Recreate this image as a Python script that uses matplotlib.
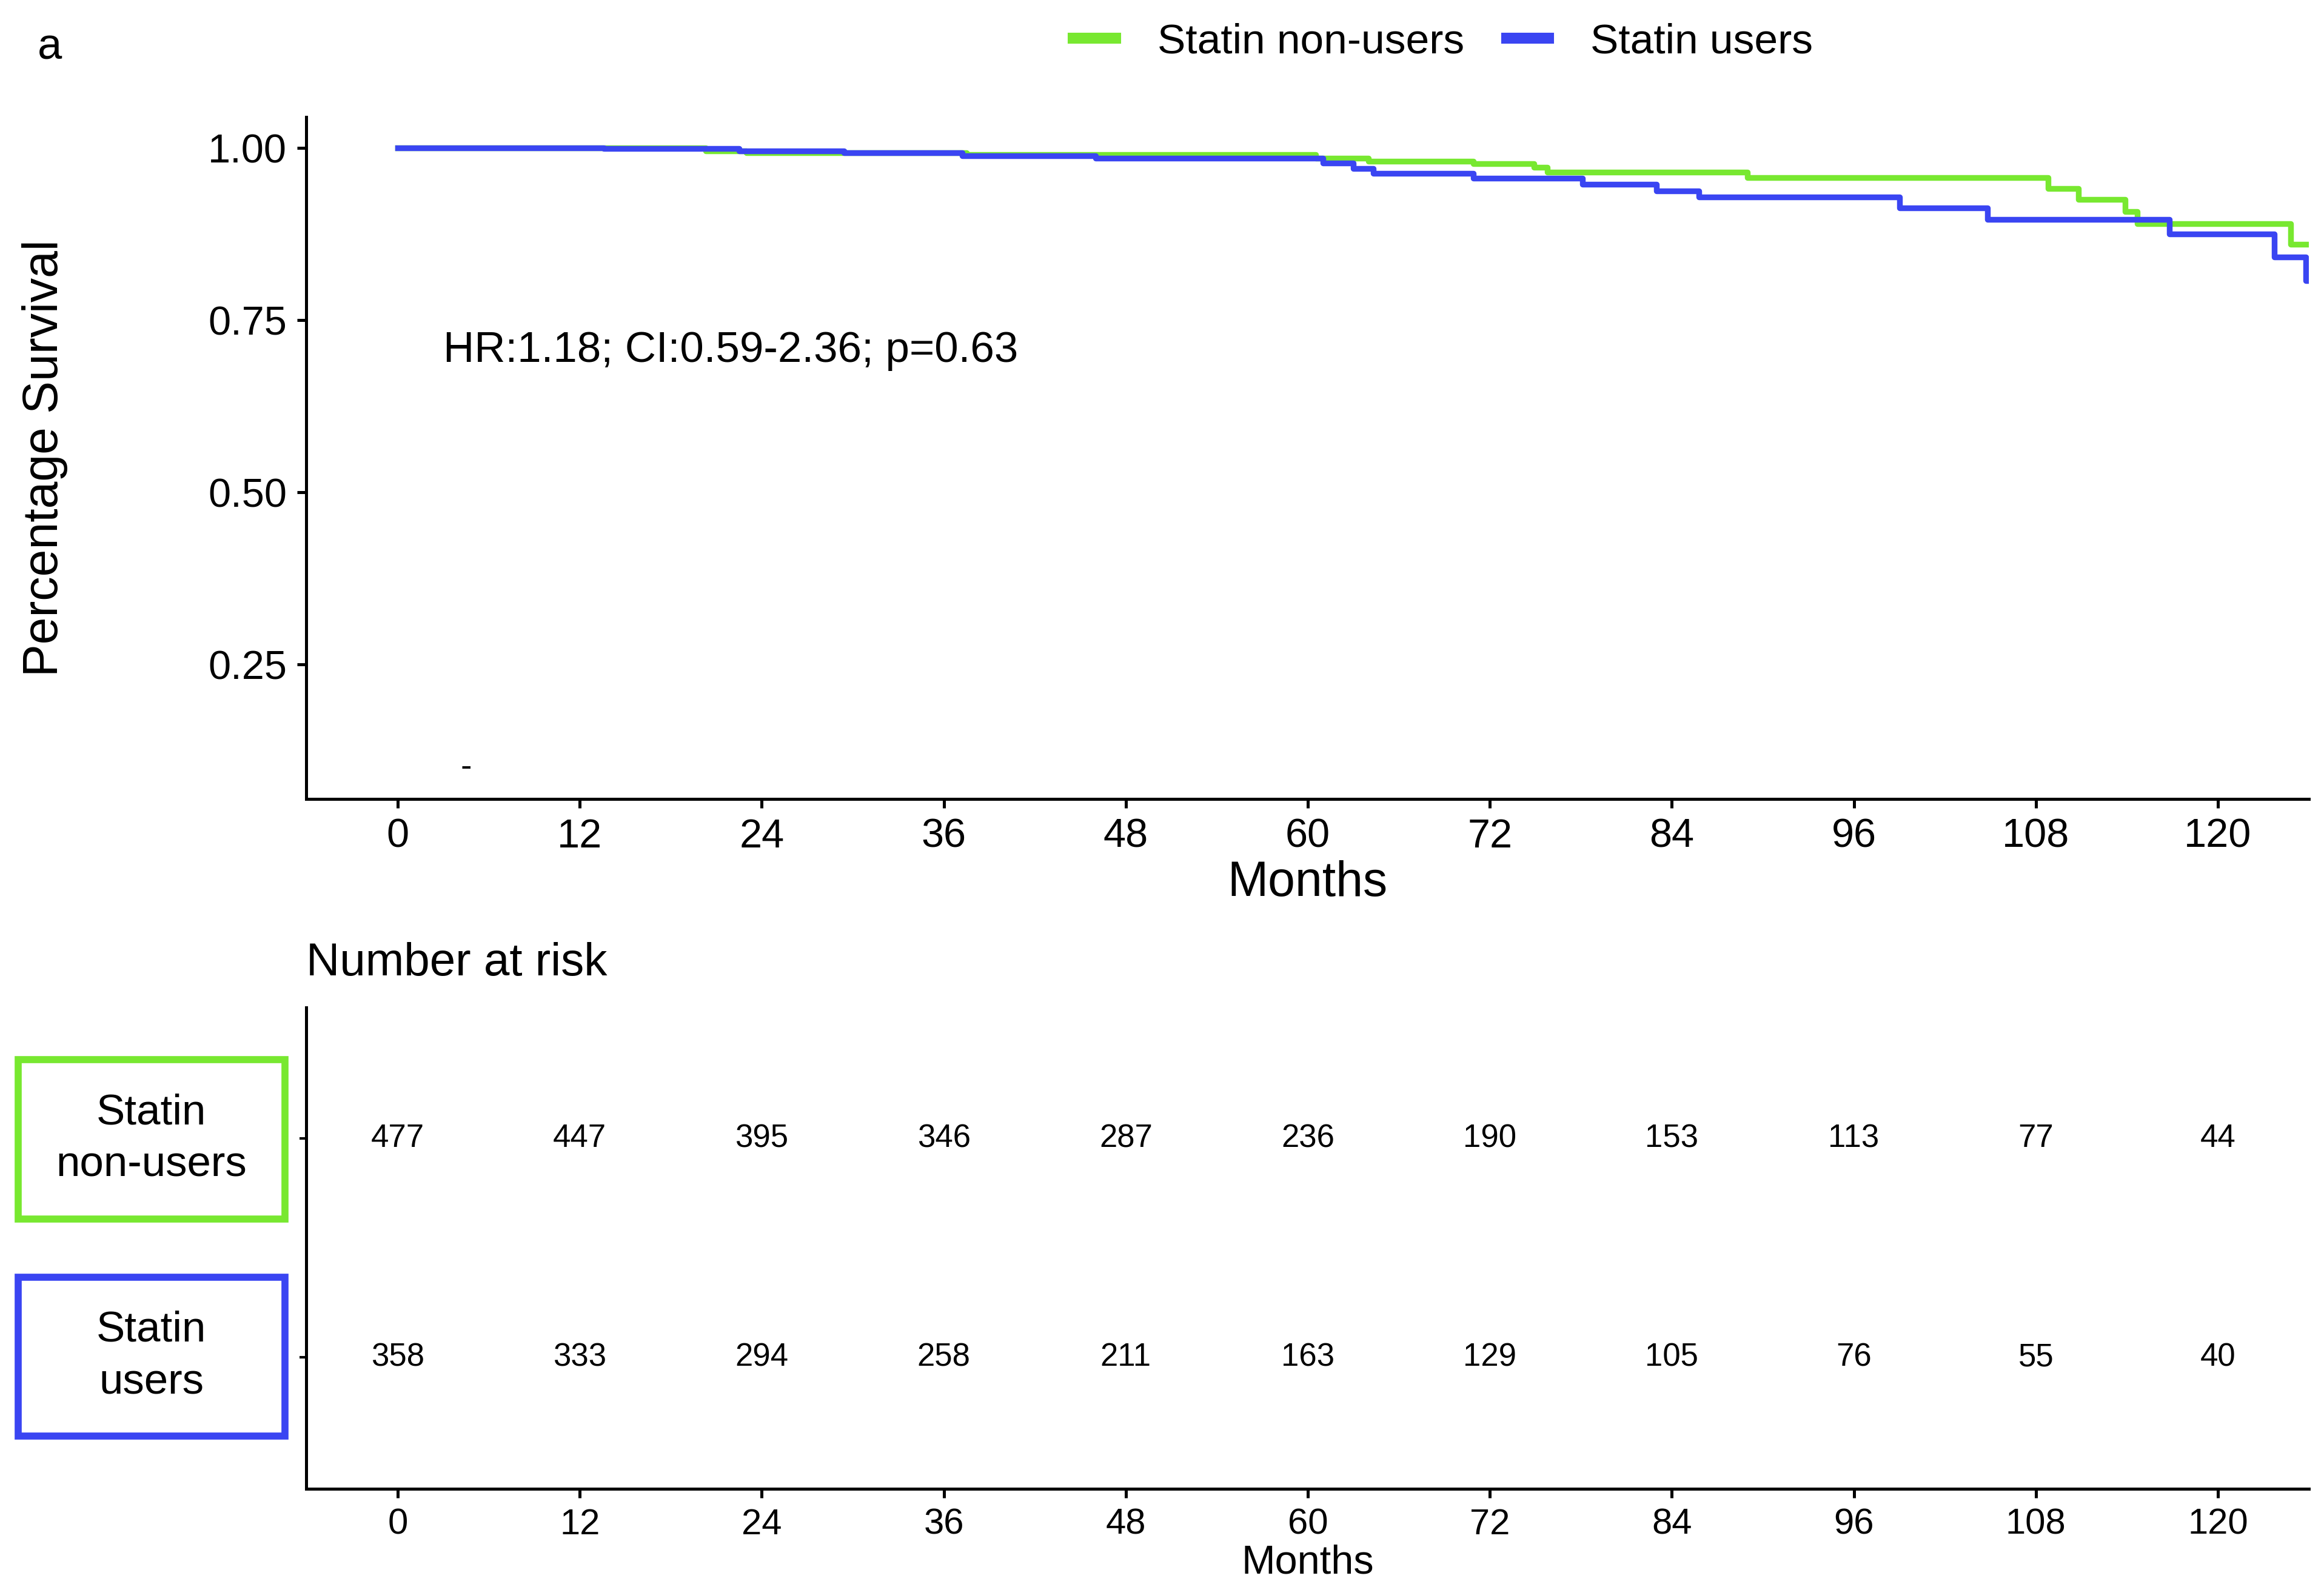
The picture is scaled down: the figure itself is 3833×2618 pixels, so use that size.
import matplotlib
matplotlib.use("Agg")
import matplotlib.pyplot as plt
from matplotlib.patches import Rectangle
from matplotlib.lines import Line2D

plt.rcParams['font.family'] = ['Liberation Sans', 'DejaVu Sans']

# Courbes de survie (mois, survie)
months_nonusers = [0, 20.3, 23, 37.5, 60.5, 64, 70.9, 74.9, 75.8, 89, 108.8, 110.8, 113.9, 114.7, 124.8, 127]
surv_nonusers = [1.0, 0.996, 0.993, 0.990, 0.985, 0.981, 0.977, 0.972, 0.965, 0.957, 0.941, 0.925, 0.908, 0.890, 0.860, 0.860]

months_users = [0, 13.6, 22.5, 29.4, 37.2, 46, 61, 63, 64.3, 70.9, 78.1, 83, 85.8, 99, 104.8, 116.8, 123.7, 125.8, 127]
surv_users = [1.0, 0.999, 0.996, 0.993, 0.989, 0.985, 0.978, 0.970, 0.963, 0.956, 0.947, 0.938, 0.929, 0.913, 0.896, 0.875, 0.842, 0.807, 0.807]

# Tableau des effectifs
risk_times = [0, 12, 24, 36, 48, 60, 72, 84, 96, 108, 120]
risk_nonusers = [477, 447, 395, 346, 287, 236, 190, 153, 113, 77, 44]
risk_users = [358, 333, 294, 258, 211, 163, 129, 105, 76, 55, 40]

groups = ["Statin non-users", "Statin users"]
box_labels = ["Statin\nnon-users", "Statin\nusers"]
colors = ["#78E830", "#3A45F2"]
hr_text = "HR:1.18; CI:0.59-2.36; p=0.63"


def style_axes(ax):
    for s in ["top", "right"]:
        ax.spines[s].set_visible(False)
    for s in ["left", "bottom"]:
        ax.spines[s].set_linewidth(1.8)
        ax.spines[s].set_color("black")


fig = plt.figure(figsize=(19.165, 13.09), dpi=200)

# Panneau principal : courbes de Kaplan-Meier
ax1 = fig.add_axes([0.1318, 0.4966, 0.8617, 0.4297])
ax1.step(months_nonusers, surv_nonusers, where="post", color=colors[0], lw=3.4)
ax1.step(months_users, surv_users, where="post", color=colors[1], lw=3.4)
ax1.set_xlim(-6.03, 126.0)
ax1.set_ylim(0.055, 1.045)
ax1.set_xticks(risk_times)
ax1.set_yticks([0.25, 0.50, 0.75, 1.00])
ax1.set_yticklabels(["0.25", "0.50", "0.75", "1.00"])
ax1.tick_params(labelsize=24, length=5.5, width=1.8, pad=6)
ax1.set_xlabel("Months", fontsize=29)
ax1.xaxis.set_label_coords(0.5, -0.09)
ax1.set_ylabel("Percentage Survival", fontsize=29)
ax1.yaxis.set_label_coords(-0.119, 0.5)
style_axes(ax1)
ax1.text(3.0, 0.705, hr_text, fontsize=25.5, ha="left", va="center")
ax1.text(4.5, 0.1, "-", fontsize=20, ha="center", va="center")

# Légende en haut
handles = [Line2D([], [], color=c, lw=6.5) for c in colors]
fig.legend(handles, groups, loc="center", bbox_to_anchor=(0.621, 0.9736), ncol=2,
           frameon=False, fontsize=25, handlelength=1.0, columnspacing=1.0, handletextpad=1.0)

fig.text(0.0214, 0.970, "a", fontsize=26, ha="center", va="center")

# Tableau "Number at risk"
ax2 = fig.add_axes([0.1318, 0.0619, 0.8617, 0.3033])
ax2.set_xlim(-6.03, 126.0)
ax2.set_ylim(0.4, 2.6)
ax2.set_xticks(risk_times)
ax2.set_yticks([1, 2])
ax2.set_yticklabels(["", ""])
ax2.tick_params(axis="x", labelsize=21.5, length=5.5, width=1.8, pad=6)
ax2.tick_params(axis="y", length=4, width=1.5)
ax2.set_xlabel("Months", fontsize=24)
ax2.xaxis.set_label_coords(0.5, -0.115)
style_axes(ax2)
for t, n1, n2 in zip(risk_times, risk_nonusers, risk_users):
    ax2.text(t, 2, str(n1), fontsize=19, ha="center", va="center")
    ax2.text(t, 1, str(n2), fontsize=19, ha="center", va="center")

fig.text(0.1318, 0.3927, "Number at risk", fontsize=27.5, ha="left", va="center")

# Étiquettes encadrées des groupes
box_y = [(0.2319, 0.3323), (0.0951, 0.1952)]
for (y0, y1), lab, c in zip(box_y, box_labels, colors):
    fig.patches.append(Rectangle((0.0078, y0), 0.1148, y1 - y0, transform=fig.transFigure,
                                 fill=False, edgecolor=c, lw=4.2))
    fig.text(0.0652, (y0 + y1) / 2, lab, fontsize=25.5, ha="center", va="center",
             linespacing=1.4)

fig.savefig("out.png", dpi=200)
